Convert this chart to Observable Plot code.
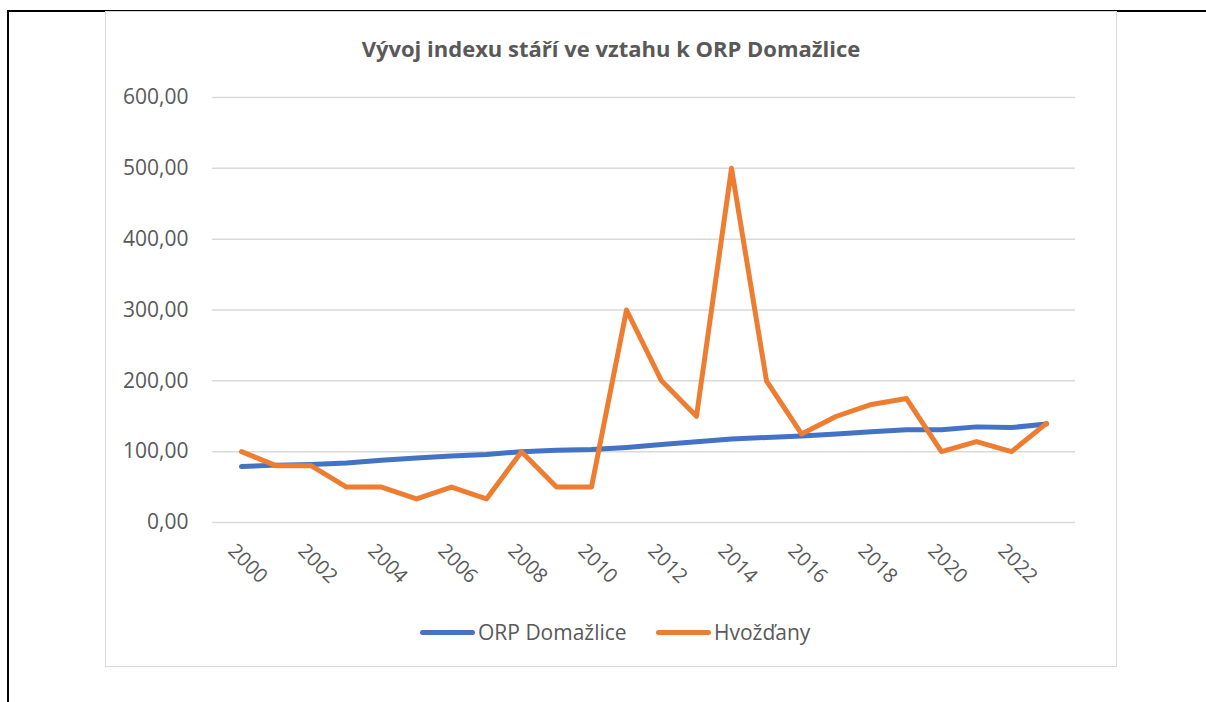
<!DOCTYPE html>
<html>
<head>
<meta charset="utf-8">
<script src="https://cdn.jsdelivr.net/npm/d3@7"></script>
<script src="https://cdn.jsdelivr.net/npm/@observablehq/plot@0.6"></script>
<style>
  html, body { margin: 0; padding: 0; background: #fff; }
  #wrap { position: relative; width: 1206px; height: 702px; overflow: hidden; font-family: "Open Sans", sans-serif; }
  .bl { position: absolute; background: #000; }
  #box { position: absolute; left: 105px; top: 11px; width: 1012px; height: 656px; border: 1.5px solid #d9d9d9; box-sizing: border-box; }
  #title { position: absolute; left: 105px; width: 1012px; top: 33px; text-align: center; font-weight: bold; font-size: 22px; line-height: 30px; color: #595959; }
  #chart { position: absolute; left: 0; top: 0; }
  .leg { position: absolute; top: 618px; font-size: 21px; color: #595959; display: flex; align-items: center; height: 28px; }
  .sw { width: 55px; height: 5px; border-radius: 3px; margin-right: 3px; }
</style>
</head>
<body>
<div id="wrap">
  <div class="bl" style="left:7px; top:10px; width:2px; height:692px;"></div>
  <div class="bl" style="left:7px; top:10px; width:1199px; height:2px;"></div>
  <div id="box"></div>
  <div id="chart"></div>
  <div id="title">Vývoj indexu stáří ve vztahu k ORP Domažlice</div>
  <div id="legend"></div>
</div>
<script>
const years = [2000,2001,2002,2003,2004,2005,2006,2007,2008,2009,2010,2011,2012,2013,2014,2015,2016,2017,2018,2019,2020,2021,2022,2023];
const orpDomazlice = [79,81,82,84,88,91,94,96,100,102,103,106,110,114,118,120,122,125,128,131,131,135,134,139];
const hvozdany = [100,80,80,50,50,33.33,50,33.33,100,50,50,300,200,150,500,200,125,150,166.67,175,100,114.29,100,140];
const seriesNames = ["ORP Domažlice", "Hvožďany"];
const seriesColors = ["#4472C4", "#ED7D31"];
const yTicks = [0,100,200,300,400,500,600];
const xTicks = [2000,2002,2004,2006,2008,2010,2012,2014,2016,2018,2020,2022];

const rows = [];
years.forEach((y, i) => {
  rows.push({year: y, value: orpDomazlice[i], series: seriesNames[0]});
  rows.push({year: y, value: hvozdany[i], series: seriesNames[1]});
});

const fmt = d => d.toFixed(2).replace(".", ",");

const chart = Plot.plot({
  width: 1206,
  height: 702,
  marginTop: 97,
  marginBottom: 180,
  marginLeft: 212,
  marginRight: 131,
  style: {fontFamily: "Open Sans, sans-serif", fontSize: "21px", color: "#595959", background: "transparent"},
  x: {type: "point", domain: years, padding: 0.5, align: 0.5},
  y: {domain: [0, 600]},
  color: {domain: seriesNames, range: seriesColors},
  marks: [
    Plot.gridY(yTicks, {stroke: "#d9d9d9", strokeOpacity: 1, strokeWidth: 1.5}),
    Plot.axisY(yTicks, {tickFormat: fmt, tickSize: 0, tickPadding: 24, fill: "#595959", fontSize: 21, label: null}),
    Plot.axisX(xTicks, {tickSize: 0, tickRotate: 45, tickPadding: 22, dx: -10, dy: 3, fill: "#595959", fontSize: 20, label: null, tickFormat: d => String(d)}),
    Plot.line(rows, {x: "year", y: "value", z: "series", stroke: "series", strokeWidth: 5, strokeLinejoin: "round", strokeLinecap: "round"})
  ]
});
document.getElementById("chart").appendChild(chart);

const legend = document.getElementById("legend");
const legX = [420, 656];
seriesNames.forEach((n, i) => {
  const d = document.createElement("div");
  d.className = "leg";
  d.style.left = legX[i] + "px";
  d.innerHTML = `<div class="sw" style="background:${seriesColors[i]}"></div><span>${n}</span>`;
  legend.appendChild(d);
});
</script>
</body>
</html>
